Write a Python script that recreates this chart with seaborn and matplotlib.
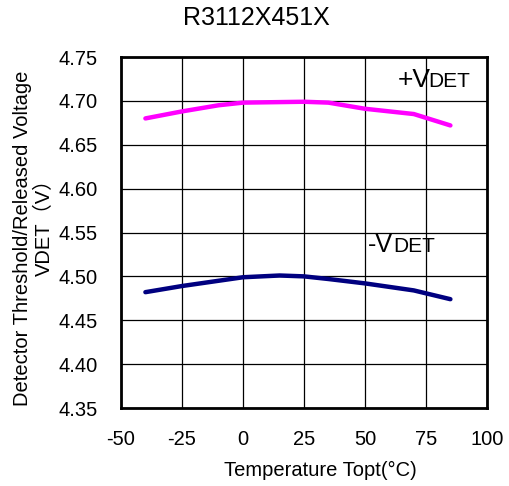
import matplotlib
matplotlib.use("Agg")
import matplotlib.pyplot as plt
import seaborn as sns
import pandas as pd

temps_plus = [-40, -25, -10, 0, 25, 35, 50, 70, 85]
vdet_plus = [4.680, 4.688, 4.695, 4.698, 4.699, 4.698, 4.691, 4.685, 4.672]
temps_minus = [-40, -25, 0, 15, 25, 35, 50, 70, 85]
vdet_minus = [4.482, 4.489, 4.499, 4.501, 4.500, 4.497, 4.492, 4.484, 4.474]
x_ticks = [-50, -25, 0, 25, 50, 75, 100]
y_ticks = [4.35, 4.40, 4.45, 4.50, 4.55, 4.60, 4.65, 4.70, 4.75]

sns.set_theme(style="white")
plt.rcParams['font.family'] = ['Liberation Sans', 'Noto Sans CJK JP', 'DejaVu Sans']
plt.rcParams['text.color'] = 'black'

df = pd.concat([
    pd.DataFrame({"T": temps_plus, "V": vdet_plus, "s": "+VDET"}),
    pd.DataFrame({"T": temps_minus, "V": vdet_minus, "s": "-VDET"}),
])

W, H = 509, 486
fig = plt.figure(figsize=(W/100, H/100), dpi=100)
ax = fig.add_axes([121/W, 1-408/H, (487-121)/W, (408-57)/H])
sns.lineplot(data=df, x="T", y="V", hue="s", palette={"+VDET": "#FF00FF", "-VDET": "#000080"},
             linewidth=3.2, legend=False, ax=ax, solid_capstyle="round")
ax.set_xlim(-50, 100)
ax.set_ylim(4.35, 4.75)
ax.set_xticks(x_ticks)
ax.set_yticks(y_ticks)
ax.set_xticklabels([str(t) for t in x_ticks])
ax.set_yticklabels([f"{v:.2f}" for v in y_ticks])
ax.tick_params(axis="both", length=0, labelsize=14.5, colors="black")
ax.tick_params(axis="x", pad=15.5)
ax.tick_params(axis="y", pad=16.5)
ax.grid(True, color="black", linewidth=0.9)
for sp in ax.spines.values():
    sp.set_color("black")
    sp.set_linewidth(2)
ax.set_xlabel("")
ax.set_ylabel("")
fig.text(320/W, 1-470/H, "Temperature Topt(°C)", ha="center", va="center", fontsize=14.5, color="black")
fig.text(23/W, 1-238/H, "Detector Threshold/Released Voltage", rotation=90,
         ha="center", va="center", fontsize=14.5, color="black")
fig.text(44/W, 1-222/H, "VDET（V）", rotation=90, ha="center", va="center", fontsize=14.5, color="black")
fig.text(256/W, 1-18/H, "R3112X451X", ha="center", va="center", fontsize=18, color="black")

ax.text(63.5, 4.716, "+V", fontsize=19, ha="left", va="baseline", color="black")
ax.text(75.8, 4.716, "DET", fontsize=15, ha="left", va="baseline", color="black")
ax.text(51.2, 4.528, "-V", fontsize=18, ha="left", va="baseline", color="black")
ax.text(61.5, 4.528, "DET", fontsize=15, ha="left", va="baseline", color="black")

fig.savefig("out.png", dpi=100)
